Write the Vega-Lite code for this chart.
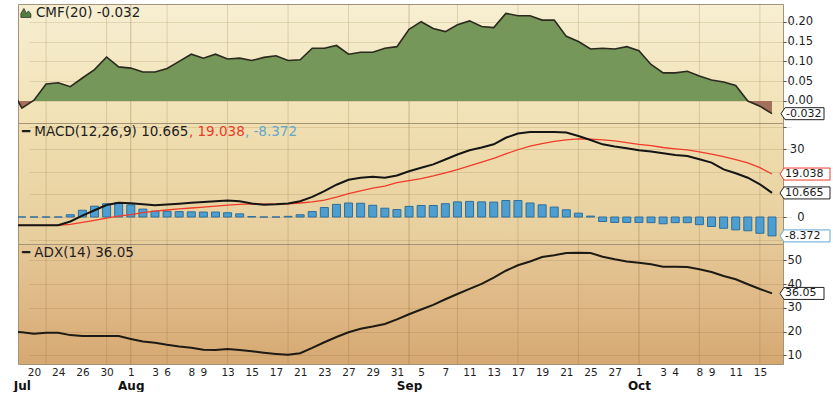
{
  "$schema": "https://vega.github.io/schema/vega-lite/v6.json",
  "padding": {"left": 12, "top": 3, "right": 2, "bottom": 0},
  "spacing": 0,
  "bounds": "flush",
  "background": "#ffffff",
  "config": {
    "font": "DejaVu Sans",
    "locale": {"number": {"decimal": ".", "thousands": ",", "grouping": [3], "currency": ["$", ""], "minus": "-"}},
    "view": {"stroke": "#a39378", "strokeWidth": 1},
    "axis": {"labelFont": "DejaVu Sans", "labelColor": "#1e1e1e", "labelFontSize": 11.5, "gridColor": "#7a5a2a", "gridOpacity": 0.16, "domain": false, "tickColor": "#555555", "tickSize": 3, "labelPadding": 1, "labelOverlap": false}
  },
  "datasets": {
    "d": [
      {"date": "2012-07-18", "cmf": 0.038, "macd": -3.7, "sig": -3.75, "hist": 0, "adx": 20.0, "g": 0},
      {"date": "2012-07-19", "cmf": -0.018, "macd": -3.7, "sig": -3.75, "hist": 0, "adx": 19.7, "g": 0},
      {"date": "2012-07-20", "cmf": 0.002, "macd": -3.7, "sig": -3.75, "hist": 0, "adx": 19.1, "g": 0},
      {"date": "2012-07-23", "cmf": 0.043, "macd": -3.7, "sig": -3.75, "hist": 0, "adx": 19.5, "g": 1},
      {"date": "2012-07-24", "cmf": 0.046, "macd": -3.6, "sig": -3.75, "hist": 0, "adx": 19.5, "g": 0},
      {"date": "2012-07-25", "cmf": 0.036, "macd": -2.0, "sig": -3.3, "hist": 1.0, "adx": 18.5, "g": 0},
      {"date": "2012-07-26", "cmf": 0.058, "macd": 0.6, "sig": -2.4, "hist": 3.0, "adx": 18.1, "g": 0},
      {"date": "2012-07-27", "cmf": 0.079, "macd": 3.0, "sig": -1.5, "hist": 4.8, "adx": 18.1, "g": 0},
      {"date": "2012-07-30", "cmf": 0.111, "macd": 5.3, "sig": -0.5, "hist": 5.9, "adx": 18.1, "g": 1},
      {"date": "2012-07-31", "cmf": 0.086, "macd": 6.3, "sig": 0.4, "hist": 6.3, "adx": 18.1, "g": 0},
      {"date": "2012-08-01", "cmf": 0.083, "macd": 6.1, "sig": 1.1, "hist": 5.4, "adx": 16.9, "g": 2},
      {"date": "2012-08-02", "cmf": 0.073, "macd": 5.6, "sig": 1.9, "hist": 3.5, "adx": 15.8, "g": 0},
      {"date": "2012-08-03", "cmf": 0.073, "macd": 5.2, "sig": 2.6, "hist": 2.6, "adx": 15.3, "g": 0},
      {"date": "2012-08-06", "cmf": 0.082, "macd": 5.5, "sig": 3.1, "hist": 2.5, "adx": 14.4, "g": 1},
      {"date": "2012-08-07", "cmf": 0.100, "macd": 5.9, "sig": 3.6, "hist": 2.4, "adx": 13.7, "g": 0},
      {"date": "2012-08-08", "cmf": 0.118, "macd": 6.3, "sig": 4.0, "hist": 2.3, "adx": 13.2, "g": 0},
      {"date": "2012-08-09", "cmf": 0.108, "macd": 6.6, "sig": 4.4, "hist": 2.2, "adx": 12.3, "g": 0},
      {"date": "2012-08-10", "cmf": 0.118, "macd": 7.0, "sig": 4.8, "hist": 2.2, "adx": 12.2, "g": 0},
      {"date": "2012-08-13", "cmf": 0.106, "macd": 7.3, "sig": 5.3, "hist": 1.9, "adx": 12.7, "g": 1},
      {"date": "2012-08-14", "cmf": 0.108, "macd": 7.0, "sig": 5.6, "hist": 1.4, "adx": 12.2, "g": 0},
      {"date": "2012-08-15", "cmf": 0.102, "macd": 6.0, "sig": 5.8, "hist": 0.2, "adx": 11.7, "g": 0},
      {"date": "2012-08-16", "cmf": 0.110, "macd": 5.4, "sig": 5.7, "hist": 0, "adx": 11.1, "g": 0},
      {"date": "2012-08-17", "cmf": 0.114, "macd": 5.6, "sig": 5.7, "hist": 0, "adx": 10.6, "g": 0},
      {"date": "2012-08-20", "cmf": 0.102, "macd": 6.0, "sig": 5.8, "hist": 0.3, "adx": 10.2, "g": 1},
      {"date": "2012-08-21", "cmf": 0.104, "macd": 7.0, "sig": 6.2, "hist": 1.0, "adx": 10.9, "g": 0},
      {"date": "2012-08-22", "cmf": 0.133, "macd": 8.9, "sig": 6.7, "hist": 2.4, "adx": 13.1, "g": 0},
      {"date": "2012-08-23", "cmf": 0.133, "macd": 11.5, "sig": 7.5, "hist": 4.2, "adx": 15.5, "g": 0},
      {"date": "2012-08-24", "cmf": 0.140, "macd": 14.3, "sig": 8.8, "hist": 5.6, "adx": 17.7, "g": 0},
      {"date": "2012-08-27", "cmf": 0.118, "macd": 16.5, "sig": 10.4, "hist": 6.2, "adx": 19.7, "g": 1},
      {"date": "2012-08-28", "cmf": 0.123, "macd": 17.4, "sig": 11.6, "hist": 6.1, "adx": 21.2, "g": 0},
      {"date": "2012-08-29", "cmf": 0.123, "macd": 17.8, "sig": 12.8, "hist": 5.2, "adx": 22.1, "g": 0},
      {"date": "2012-08-30", "cmf": 0.133, "macd": 17.4, "sig": 13.7, "hist": 3.9, "adx": 23.2, "g": 0},
      {"date": "2012-08-31", "cmf": 0.137, "macd": 18.4, "sig": 15.2, "hist": 3.3, "adx": 25.1, "g": 0},
      {"date": "2012-09-04", "cmf": 0.181, "macd": 20.3, "sig": 16.1, "hist": 4.7, "adx": 27.3, "g": 2},
      {"date": "2012-09-05", "cmf": 0.200, "macd": 21.8, "sig": 17.0, "hist": 5.1, "adx": 29.3, "g": 0},
      {"date": "2012-09-06", "cmf": 0.183, "macd": 23.3, "sig": 18.2, "hist": 5.1, "adx": 31.2, "g": 0},
      {"date": "2012-09-07", "cmf": 0.175, "macd": 25.5, "sig": 19.6, "hist": 5.9, "adx": 33.6, "g": 0},
      {"date": "2012-09-10", "cmf": 0.192, "macd": 27.7, "sig": 21.0, "hist": 6.7, "adx": 35.8, "g": 1},
      {"date": "2012-09-11", "cmf": 0.202, "macd": 29.6, "sig": 22.7, "hist": 6.9, "adx": 38.0, "g": 0},
      {"date": "2012-09-12", "cmf": 0.188, "macd": 30.8, "sig": 24.3, "hist": 6.7, "adx": 40.1, "g": 0},
      {"date": "2012-09-13", "cmf": 0.185, "macd": 32.2, "sig": 26.0, "hist": 6.6, "adx": 42.7, "g": 0},
      {"date": "2012-09-14", "cmf": 0.221, "macd": 35.1, "sig": 28.0, "hist": 7.3, "adx": 45.6, "g": 0},
      {"date": "2012-09-17", "cmf": 0.215, "macd": 37.0, "sig": 29.8, "hist": 7.3, "adx": 47.9, "g": 1},
      {"date": "2012-09-18", "cmf": 0.215, "macd": 37.7, "sig": 31.4, "hist": 6.2, "adx": 49.5, "g": 0},
      {"date": "2012-09-19", "cmf": 0.204, "macd": 37.7, "sig": 32.5, "hist": 5.4, "adx": 51.4, "g": 0},
      {"date": "2012-09-20", "cmf": 0.204, "macd": 37.7, "sig": 33.5, "hist": 4.4, "adx": 52.1, "g": 0},
      {"date": "2012-09-21", "cmf": 0.163, "macd": 37.4, "sig": 34.2, "hist": 3.2, "adx": 53.1, "g": 0},
      {"date": "2012-09-24", "cmf": 0.150, "macd": 35.9, "sig": 34.6, "hist": 1.7, "adx": 53.2, "g": 1},
      {"date": "2012-09-25", "cmf": 0.131, "macd": 34.1, "sig": 34.5, "hist": 0.4, "adx": 53.1, "g": 0},
      {"date": "2012-09-26", "cmf": 0.133, "macd": 32.2, "sig": 34.2, "hist": -2.0, "adx": 51.5, "g": 0},
      {"date": "2012-09-27", "cmf": 0.131, "macd": 31.2, "sig": 33.7, "hist": -2.4, "adx": 50.4, "g": 0},
      {"date": "2012-09-28", "cmf": 0.137, "macd": 30.5, "sig": 33.0, "hist": -2.4, "adx": 49.5, "g": 0},
      {"date": "2012-10-01", "cmf": 0.127, "macd": 29.6, "sig": 32.2, "hist": -2.4, "adx": 49.0, "g": 2},
      {"date": "2012-10-02", "cmf": 0.092, "macd": 29.0, "sig": 31.6, "hist": -2.5, "adx": 48.3, "g": 0},
      {"date": "2012-10-03", "cmf": 0.071, "macd": 28.2, "sig": 30.8, "hist": -3.0, "adx": 47.3, "g": 0},
      {"date": "2012-10-04", "cmf": 0.071, "macd": 27.5, "sig": 30.2, "hist": -2.5, "adx": 47.3, "g": 0},
      {"date": "2012-10-05", "cmf": 0.075, "macd": 27.0, "sig": 29.7, "hist": -2.5, "adx": 47.2, "g": 0},
      {"date": "2012-10-08", "cmf": 0.063, "macd": 25.6, "sig": 28.9, "hist": -3.4, "adx": 46.2, "g": 1},
      {"date": "2012-10-09", "cmf": 0.053, "macd": 24.1, "sig": 27.9, "hist": -4.2, "adx": 45.1, "g": 0},
      {"date": "2012-10-10", "cmf": 0.048, "macd": 21.1, "sig": 26.8, "hist": -5.0, "adx": 43.4, "g": 0},
      {"date": "2012-10-11", "cmf": 0.039, "macd": 19.4, "sig": 25.4, "hist": -5.7, "adx": 42.0, "g": 0},
      {"date": "2012-10-12", "cmf": 0.000, "macd": 17.4, "sig": 24.0, "hist": -6.1, "adx": 39.9, "g": 0},
      {"date": "2012-10-15", "cmf": -0.013, "macd": 14.5, "sig": 21.9, "hist": -7.2, "adx": 37.9, "g": 1},
      {"date": "2012-10-16", "cmf": -0.032, "macd": 10.665, "sig": 19.038, "hist": -8.372, "adx": 36.05, "g": 0}
    ]
  },
  "vconcat": [
    {
      "width": 765,
      "height": 119,
      "view": {"stroke": "#a39378", "fill": {"gradient": "linear", "x1": 0, "y1": 0, "x2": 0, "y2": 1, "stops": [{"offset": 0, "color": "#f7efd2"}, {"offset": 1, "color": "#f1e1b4"}]}},
      "data": {"name": "d"},
      "resolve": {"axis": {"y": "independent"}},
      "layer": [
        {
          "transform": [{"filter": "datum.g > 0"}],
          "mark": {"type": "rule", "color": "#7a5a2a", "strokeWidth": 1},
          "encoding": {
            "x": {"field": "date", "type": "ordinal", "scale": {"type": "point", "padding": 0, "range": [-8.2, 754]}, "axis": null},
            "strokeOpacity": {"condition": {"test": "datum.g == 2", "value": 0.32}, "value": 0.2}
          }
        },
        {
          "mark": {"type": "area", "clip": true, "fill": {"gradient": "linear", "x1": 0, "y1": 0, "x2": 0, "y2": 1, "stops": [{"offset": 0, "color": "#76975a"}, {"offset": 0.8735, "color": "#76975a"}, {"offset": 0.8735, "color": "#a46f5b"}, {"offset": 1, "color": "#a46f5b"}]}},
          "encoding": {
            "x": {"field": "date", "type": "ordinal", "scale": {"type": "point", "padding": 0, "range": [-8.2, 754]}, "axis": null},
            "y": {"field": "cmf", "type": "quantitative", "title": null, "scale": {"domain": [-0.0555, 0.2446], "zero": false, "nice": false}, "axis": {"orient": "right", "values": [0, 0.05, 0.1, 0.15, 0.2], "format": ".2f", "grid": true, "title": null, "labelOverlap": false}}
          }
        },
        {
          "mark": {"type": "line", "clip": true, "color": "#2a2a1e", "strokeWidth": 1.6},
          "encoding": {
            "x": {"field": "date", "type": "ordinal", "axis": null},
            "y": {"field": "cmf", "type": "quantitative", "axis": null, "scale": {"domain": [-0.0555, 0.2446], "zero": false, "nice": false}}
          }
        },
        {
          "data": {"values": [{"t": "CMF(20) -0.032"}]},
          "mark": {"type": "point", "shape": "M-0.2,0.9L-0.2,0.1L0.4,-0.9L0.9,0.1L1.3,-0.4L1.8,0.2L1.8,0.9Z", "size": 100, "filled": true, "fill": "#4f7f3a", "stroke": "#333333", "strokeWidth": 0.8, "opacity": 1},
          "encoding": {
            "x": {"datum": "2012-07-19", "type": "ordinal", "axis": null},
            "y": {"datum": 0.222, "type": "quantitative", "axis": null, "scale": {"domain": [-0.0555, 0.2446], "zero": false, "nice": false}}
          }
        },
        {
          "data": {"values": [{"t": "CMF(20) -0.032"}]},
          "mark": {"type": "text", "align": "left", "baseline": "middle", "dx": 14, "fontSize": 13.5, "color": "#1e1e1e"},
          "encoding": {
            "x": {"datum": "2012-07-19", "type": "ordinal", "axis": null},
            "y": {"datum": 0.222, "type": "quantitative", "axis": null, "scale": {"domain": [-0.0555, 0.2446], "zero": false, "nice": false}},
            "text": {"field": "t"}
          }
        },
        {
          "transform": [{"filter": "datum.date == '2012-10-16'"}],
          "mark": {"type": "point", "shape": "M0.9,0L1.3,-0.6L5.2,-0.6L5.2,0.6L1.3,0.6Z", "size": 400, "filled": true, "fill": "#ffffff", "stroke": "#222222", "strokeWidth": 1, "opacity": 1},
          "encoding": {
            "x": {"field": "date", "type": "ordinal", "axis": null},
            "y": {"field": "cmf", "type": "quantitative", "axis": null, "scale": {"domain": [-0.0555, 0.2446], "zero": false, "nice": false}}
          }
        },
        {
          "transform": [{"filter": "datum.date == '2012-10-16'"}],
          "mark": {"type": "text", "align": "left", "baseline": "middle", "dx": 14, "fontSize": 11, "color": "#1a1a1a"},
          "encoding": {
            "x": {"field": "date", "type": "ordinal", "axis": null},
            "y": {"field": "cmf", "type": "quantitative", "axis": null, "scale": {"domain": [-0.0555, 0.2446], "zero": false, "nice": false}},
            "text": {"field": "cmf", "type": "quantitative", "format": ".3f"}
          }
        }
      ]
    },
    {
      "width": 765,
      "height": 121,
      "view": {"stroke": "#a39378", "fill": {"gradient": "linear", "x1": 0, "y1": 0, "x2": 0, "y2": 1, "stops": [{"offset": 0, "color": "#f0dfb1"}, {"offset": 1, "color": "#e7cd9c"}]}},
      "data": {"name": "d"},
      "resolve": {"axis": {"y": "independent"}},
      "layer": [
        {
          "transform": [{"filter": "datum.g > 0"}],
          "mark": {"type": "rule", "color": "#7a5a2a", "strokeWidth": 1},
          "encoding": {
            "x": {"field": "date", "type": "ordinal", "scale": {"type": "point", "padding": 0, "range": [-8.2, 754]}, "axis": null},
            "strokeOpacity": {"condition": {"test": "datum.g == 2", "value": 0.32}, "value": 0.2}
          }
        },
        {
          "mark": {"type": "bar", "clip": true, "width": 8, "fill": "#4c9fd0", "stroke": "#2f6f9c", "strokeWidth": 1},
          "encoding": {
            "x": {"field": "date", "type": "ordinal", "scale": {"type": "point", "padding": 0, "range": [-8.2, 754]}, "axis": null},
            "y": {"field": "hist", "type": "quantitative", "title": null, "scale": {"domain": [-11.96, 41.65], "zero": false, "nice": false}, "axis": {"orient": "right", "values": [-10, 0, 10, 20, 30, 40], "labelExpr": "datum.value == 0 || datum.value == 30 ? datum.label : ''", "grid": true, "title": null, "labelAlign": "right", "labelPadding": 18, "labelOverlap": false}},
            "y2": {"datum": 0}
          }
        },
        {
          "mark": {"type": "line", "clip": true, "color": "#f03a2a", "strokeWidth": 1.3},
          "encoding": {
            "x": {"field": "date", "type": "ordinal", "axis": null},
            "y": {"field": "sig", "type": "quantitative", "axis": null, "scale": {"domain": [-11.96, 41.65], "zero": false, "nice": false}}
          }
        },
        {
          "mark": {"type": "line", "clip": true, "color": "#151515", "strokeWidth": 2},
          "encoding": {
            "x": {"field": "date", "type": "ordinal", "axis": null},
            "y": {"field": "macd", "type": "quantitative", "axis": null, "scale": {"domain": [-11.96, 41.65], "zero": false, "nice": false}}
          }
        },
        {
          "data": {"values": [{"t": "━ MACD(12,26,9) 10.665"}]},
          "mark": {"type": "text", "align": "left", "baseline": "middle", "dx": 0, "fontSize": 13.5, "color": "#1e1e1e"},
          "encoding": {
            "x": {"datum": "2012-07-19", "type": "ordinal", "axis": null},
            "y": {"datum": 37.66, "type": "quantitative", "axis": null, "scale": {"domain": [-11.96, 41.65], "zero": false, "nice": false}},
            "text": {"field": "t"}
          }
        },
        {
          "data": {"values": [{"t": ", 19.038"}]},
          "mark": {"type": "text", "align": "left", "baseline": "middle", "dx": 167, "fontSize": 13.5, "color": "#ee3a2c"},
          "encoding": {
            "x": {"datum": "2012-07-19", "type": "ordinal", "axis": null},
            "y": {"datum": 37.66, "type": "quantitative", "axis": null, "scale": {"domain": [-11.96, 41.65], "zero": false, "nice": false}},
            "text": {"field": "t"}
          }
        },
        {
          "data": {"values": [{"t": ", -8.372"}]},
          "mark": {"type": "text", "align": "left", "baseline": "middle", "dx": 223, "fontSize": 13.5, "color": "#62a8d2"},
          "encoding": {
            "x": {"datum": "2012-07-19", "type": "ordinal", "axis": null},
            "y": {"datum": 37.66, "type": "quantitative", "axis": null, "scale": {"domain": [-11.96, 41.65], "zero": false, "nice": false}},
            "text": {"field": "t"}
          }
        },
        {
          "transform": [{"filter": "datum.date == '2012-10-16'"}],
          "mark": {"type": "point", "shape": "M0.8,0L1.2,-0.6L5.8,-0.6L5.8,0.6L1.2,0.6Z", "size": 400, "filled": true, "fill": "#ffffff", "stroke": "#ee3a2c", "strokeWidth": 1, "opacity": 1},
          "encoding": {
            "x": {"field": "date", "type": "ordinal", "axis": null},
            "y": {"field": "sig", "type": "quantitative", "axis": null, "scale": {"domain": [-11.96, 41.65], "zero": false, "nice": false}}
          }
        },
        {
          "transform": [{"filter": "datum.date == '2012-10-16'"}],
          "mark": {"type": "point", "shape": "M0.8,0L1.2,-0.6L5.8,-0.6L5.8,0.6L1.2,0.6Z", "size": 400, "filled": true, "fill": "#ffffff", "stroke": "#222222", "strokeWidth": 1, "opacity": 1},
          "encoding": {
            "x": {"field": "date", "type": "ordinal", "axis": null},
            "y": {"field": "macd", "type": "quantitative", "axis": null, "scale": {"domain": [-11.96, 41.65], "zero": false, "nice": false}}
          }
        },
        {
          "transform": [{"filter": "datum.date == '2012-10-16'"}],
          "mark": {"type": "point", "shape": "M0.8,0L1.2,-0.6L5.8,-0.6L5.8,0.6L1.2,0.6Z", "size": 400, "filled": true, "fill": "#ffffff", "stroke": "#62a8d2", "strokeWidth": 1, "opacity": 1},
          "encoding": {
            "x": {"field": "date", "type": "ordinal", "axis": null},
            "y": {"field": "hist", "type": "quantitative", "axis": null, "scale": {"domain": [-11.96, 41.65], "zero": false, "nice": false}}
          }
        },
        {
          "transform": [{"filter": "datum.date == '2012-10-16'"}],
          "mark": {"type": "text", "align": "left", "baseline": "middle", "dx": 13, "fontSize": 11, "color": "#1a1a1a"},
          "encoding": {
            "x": {"field": "date", "type": "ordinal", "axis": null},
            "y": {"field": "sig", "type": "quantitative", "axis": null, "scale": {"domain": [-11.96, 41.65], "zero": false, "nice": false}},
            "text": {"field": "sig", "type": "quantitative", "format": ".3f"}
          }
        },
        {
          "transform": [{"filter": "datum.date == '2012-10-16'"}],
          "mark": {"type": "text", "align": "left", "baseline": "middle", "dx": 13, "fontSize": 11, "color": "#1a1a1a"},
          "encoding": {
            "x": {"field": "date", "type": "ordinal", "axis": null},
            "y": {"field": "macd", "type": "quantitative", "axis": null, "scale": {"domain": [-11.96, 41.65], "zero": false, "nice": false}},
            "text": {"field": "macd", "type": "quantitative", "format": ".3f"}
          }
        },
        {
          "transform": [{"filter": "datum.date == '2012-10-16'"}],
          "mark": {"type": "text", "align": "left", "baseline": "middle", "dx": 13, "fontSize": 11, "color": "#1a1a1a"},
          "encoding": {
            "x": {"field": "date", "type": "ordinal", "axis": null},
            "y": {"field": "hist", "type": "quantitative", "axis": null, "scale": {"domain": [-11.96, 41.65], "zero": false, "nice": false}},
            "text": {"field": "hist", "type": "quantitative", "format": ".3f"}
          }
        }
      ]
    },
    {
      "width": 765,
      "height": 120,
      "view": {"stroke": "#a39378", "fill": {"gradient": "linear", "x1": 0, "y1": 0, "x2": 0, "y2": 1, "stops": [{"offset": 0, "color": "#e6c898"}, {"offset": 1, "color": "#d6a872"}]}},
      "data": {"name": "d"},
      "resolve": {"axis": {"x": "independent", "y": "independent"}},
      "layer": [
        {
          "transform": [{"filter": "datum.g > 0"}],
          "mark": {"type": "rule", "color": "#7a5a2a", "strokeWidth": 1},
          "encoding": {
            "x": {"field": "date", "type": "ordinal", "scale": {"type": "point", "padding": 0, "range": [-8.2, 754]}, "axis": {"orient": "bottom", "values": ["2012-07-19", "2012-08-01", "2012-09-04", "2012-10-01"], "labelExpr": "substring(datum.value,5,7) == '07' ? 'Jul' : substring(datum.value,5,7) == '08' ? 'Aug' : substring(datum.value,5,7) == '09' ? 'Sep' : 'Oct'", "labelAngle": 0, "labelFontWeight": "bold", "labelFontSize": 12, "labelColor": "#111111", "ticks": false, "domain": false, "grid": false, "labelPadding": 16, "labelBaseline": "top", "labelFlush": false, "labelOverlap": false, "title": null}},
            "strokeOpacity": {"condition": {"test": "datum.g == 2", "value": 0.32}, "value": 0.2}
          }
        },
        {
          "mark": {"type": "line", "clip": true, "color": "#1e1a14", "strokeWidth": 2},
          "encoding": {
            "x": {"field": "date", "type": "ordinal", "axis": {"orient": "bottom", "values": ["2012-07-20", "2012-07-24", "2012-07-26", "2012-07-30", "2012-08-01", "2012-08-03", "2012-08-06", "2012-08-08", "2012-08-09", "2012-08-13", "2012-08-15", "2012-08-17", "2012-08-21", "2012-08-23", "2012-08-27", "2012-08-29", "2012-08-31", "2012-09-05", "2012-09-07", "2012-09-11", "2012-09-13", "2012-09-17", "2012-09-19", "2012-09-21", "2012-09-25", "2012-09-27", "2012-10-01", "2012-10-03", "2012-10-04", "2012-10-08", "2012-10-09", "2012-10-11", "2012-10-15"], "labelExpr": "'' + toNumber(substring(datum.value,8,10))", "labelAngle": 0, "labelFontSize": 10.5, "ticks": false, "domain": false, "grid": false, "labelPadding": 3, "labelBaseline": "top", "labelFlush": false, "labelOverlap": false, "title": null}},
            "y": {"field": "adx", "type": "quantitative", "title": null, "scale": {"domain": [6.34, 56.86], "zero": false, "nice": false}, "axis": {"orient": "right", "values": [10, 20, 30, 40, 50], "grid": true, "title": null, "labelOverlap": false}}
          }
        },
        {
          "data": {"values": [{"t": "━ ADX(14) 36.05"}]},
          "mark": {"type": "text", "align": "left", "baseline": "middle", "dx": 0, "fontSize": 13.5, "color": "#1e1e1e"},
          "encoding": {
            "x": {"datum": "2012-07-19", "type": "ordinal", "axis": null},
            "y": {"datum": 53.07, "type": "quantitative", "axis": null, "scale": {"domain": [6.34, 56.86], "zero": false, "nice": false}},
            "text": {"field": "t"}
          }
        },
        {
          "transform": [{"filter": "datum.date == '2012-10-16'"}],
          "mark": {"type": "point", "shape": "M0.8,0L1.2,-0.6L5.2,-0.6L5.2,0.6L1.2,0.6Z", "size": 400, "filled": true, "fill": "#ffffff", "stroke": "#222222", "strokeWidth": 1, "opacity": 1},
          "encoding": {
            "x": {"field": "date", "type": "ordinal", "axis": null},
            "y": {"field": "adx", "type": "quantitative", "axis": null, "scale": {"domain": [6.34, 56.86], "zero": false, "nice": false}}
          }
        },
        {
          "transform": [{"filter": "datum.date == '2012-10-16'"}],
          "mark": {"type": "text", "align": "left", "baseline": "middle", "dx": 13, "fontSize": 11, "color": "#1a1a1a"},
          "encoding": {
            "x": {"field": "date", "type": "ordinal", "axis": null},
            "y": {"field": "adx", "type": "quantitative", "axis": null, "scale": {"domain": [6.34, 56.86], "zero": false, "nice": false}},
            "text": {"field": "adx", "type": "quantitative", "format": ".2f"}
          }
        }
      ]
    }
  ]
}
